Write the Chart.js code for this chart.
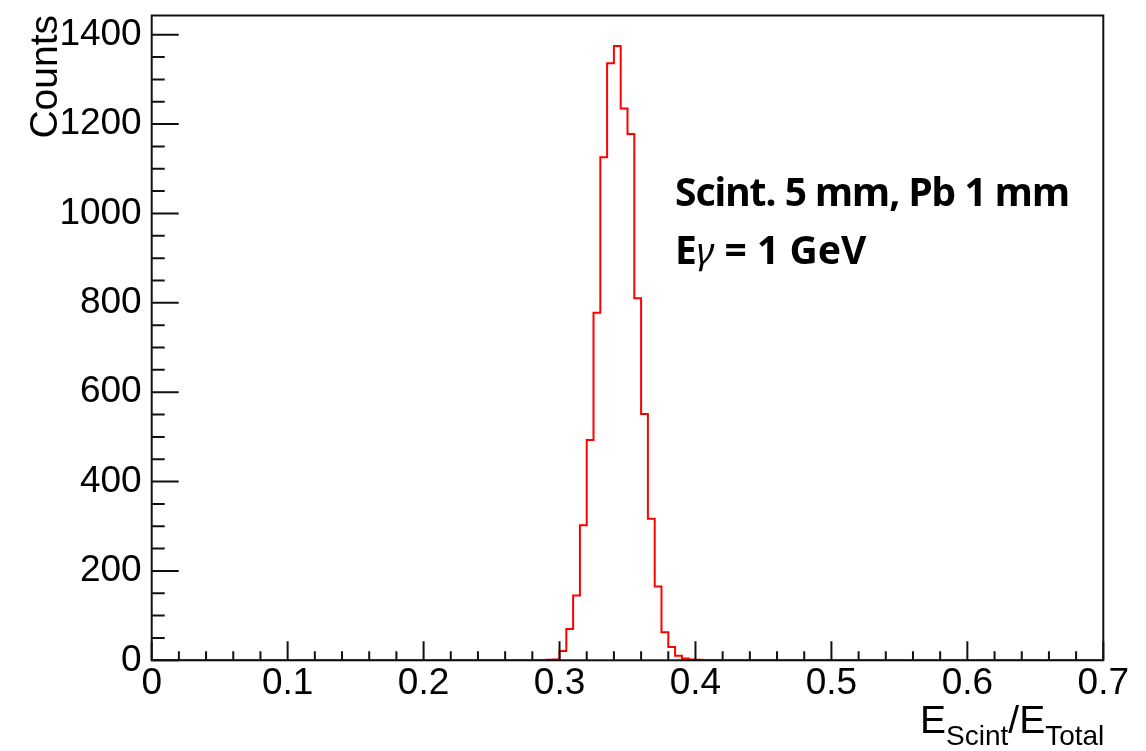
<!DOCTYPE html>
<html>
<head>
<meta charset="utf-8">
<script src="https://cdn.jsdelivr.net/npm/chart.js@4/dist/chart.umd.min.js"></script>
<style>
  body { margin: 0; background: #fff; }
</style>
</head>
<body>
<canvas id="hist" width="1146" height="751"></canvas>
<script>
// histogram binning: 140 bins of 0.005 from 0 to 0.7
var binWidth = 0.005;
var nBins = 140;
var firstFilledBin = 58;   // bin starting at 0.290
var counts = [1, 2, 21, 70, 145, 302, 493, 778, 1126, 1336, 1375, 1235,
              1178, 810, 551, 317, 165, 63, 30, 10, 4, 2, 1];
var xTicks = [0, 0.1, 0.2, 0.3, 0.4, 0.5, 0.6, 0.7];
var yTicks = [0, 200, 400, 600, 800, 1000, 1200, 1400];
var yMax = 1443;
var labelLine1 = 'Scint. 5 mm, Pb 1 mm';
var labelLine2 = ['E', 'γ', ' = 1 GeV'];

// bin contents -> step points at bin low edges, plus the upper edge of the last bin
var histPoints = [];
for (var i = 0; i < nBins; i++) {
    var k = i - firstFilledBin;
    var v = (k >= 0 && k < counts.length) ? counts[k] : 0;
    histPoints.push({ x: i * binWidth, y: v });
}
histPoints.push({ x: nBins * binWidth, y: 0 });

var axisFont = "'Liberation Sans', Arial, Helvetica, sans-serif";
var noteFont = "'Noto Sans', 'Open Sans', sans-serif";

// ROOT-like frame, inward ticks and texts
var rootStyle = {
    id: 'rootStyle',
    afterDraw: function (chart) {
        var ctx = chart.ctx;
        var a = chart.chartArea;
        var xs = chart.scales.x, ys = chart.scales.y;
        ctx.save();
        ctx.strokeStyle = '#111';
        ctx.lineWidth = 2;
        ctx.strokeRect(a.left, a.top, a.right - a.left, a.bottom - a.top);

        ctx.beginPath();
        // y ticks every 50, major every 200
        for (var c = 0; c <= yMax; c += 50) {
            var py = ys.getPixelForValue(c);
            var len = (c % 200 === 0) ? 27 : 13;
            ctx.moveTo(a.left, py);
            ctx.lineTo(a.left + len, py);
        }
        // x ticks every 0.02, major every 0.1
        for (var j = 0; j <= 35; j++) {
            var px = xs.getPixelForValue(j * 0.02);
            var l = (j % 5 === 0) ? 19 : 9;
            ctx.moveTo(px, a.bottom);
            ctx.lineTo(px, a.bottom - l);
        }
        ctx.stroke();

        ctx.fillStyle = '#000';
        // y title
        ctx.save();
        ctx.translate(57, 15);
        ctx.rotate(-Math.PI / 2);
        ctx.font = '39px ' + axisFont;
        ctx.textAlign = 'right';
        ctx.textBaseline = 'alphabetic';
        ctx.fillText('Counts', 0, 0);
        ctx.restore();

        // x title E_Scint / E_Total, right aligned to frame
        var big = '39px ' + axisFont, small = '28px ' + axisFont;
        var parts = [['E', big, 0], ['Scint', small, 12], ['/', big, 0], ['E', big, 0], ['Total', small, 12]];
        var total = 0;
        parts.forEach(function (p) { ctx.font = p[1]; total += ctx.measureText(p[0]).width; });
        var tx = a.right + 1 - total;
        ctx.textAlign = 'left';
        parts.forEach(function (p) {
            ctx.font = p[1];
            ctx.fillText(p[0], tx, 733 + p[2]);
            tx += ctx.measureText(p[0]).width;
        });

        // annotation
        ctx.letterSpacing = '-1px';
        ctx.font = 'bold 39px ' + noteFont;
        ctx.fillText(labelLine1, 675, 206);
        ctx.letterSpacing = '0px';
        var gx = 675;
        ctx.fillText(labelLine2[0], gx, 264);
        gx += ctx.measureText(labelLine2[0]).width;
        ctx.font = 'italic 37px ' + noteFont;
        ctx.fillText(labelLine2[1], gx, 264);
        gx += ctx.measureText(labelLine2[1]).width;
        ctx.font = 'bold 39px ' + noteFont;
        ctx.fillText(labelLine2[2], gx, 264);
        ctx.restore();
    }
};

var ctxHist = document.getElementById('hist').getContext('2d');
var histChart = new Chart(ctxHist, {
    type: 'line',
    data: {
        datasets: [{
            label: 'hist',
            data: histPoints,
            stepped: 'before',
            borderColor: '#ff0000',
            borderWidth: 2,
            pointRadius: 0,
            fill: false
        }]
    },
    options: {
        responsive: false,
        devicePixelRatio: 1,
        animation: false,
        layout: { padding: { left: 0, right: 42.7, top: 15.5, bottom: 0 } },
        plugins: { legend: { display: false }, tooltip: { enabled: false } },
        scales: {
            x: {
                type: 'linear',
                min: 0,
                max: 0.7,
                grid: { display: false, drawTicks: false },
                border: { display: false },
                afterBuildTicks: function (s) { s.ticks = xTicks.map(function (v) { return { value: v }; }); },
                ticks: {
                    color: '#000',
                    padding: 1,
                    maxRotation: 0,
                    autoSkip: false,
                    font: { family: axisFont, size: 37 },
                    callback: function (v) { return v === 0 ? '0' : v.toFixed(1); }
                },
                afterFit: function (s) {
                    s.height = 90.7;
                    s.paddingLeft = 0; s.paddingRight = 0;
                }
            },
            y: {
                min: 0,
                max: yMax,
                grid: { display: false, drawTicks: false },
                border: { display: false },
                afterBuildTicks: function (s) { s.ticks = yTicks.map(function (v) { return { value: v }; }); },
                ticks: {
                    color: '#000',
                    padding: 10,
                    autoSkip: false,
                    font: { family: axisFont, size: 37 },
                    callback: function (v) { return String(v); }
                },
                afterFit: function (s) {
                    s.width = 151.7;
                    s.paddingTop = 0; s.paddingBottom = 0;
                }
            }
        }
    },
    plugins: [rootStyle]
});
</script>
</body>
</html>
